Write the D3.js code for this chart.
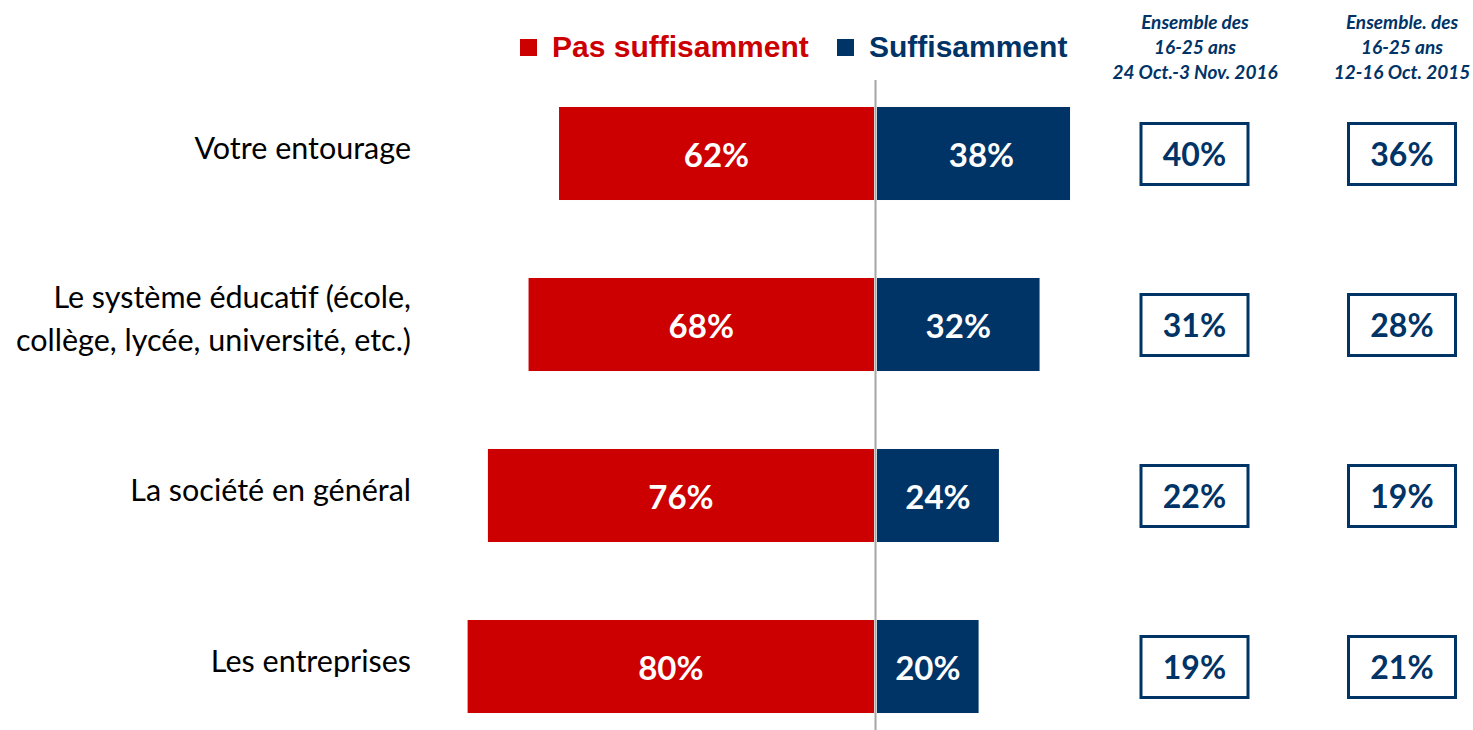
<!DOCTYPE html>
<html>
<head>
<meta charset="utf-8">
<script src="https://cdn.jsdelivr.net/npm/d3@7/dist/d3.min.js"></script>
<style>
  body { margin: 0; background: #fff; }
  svg { display: block; }
</style>
</head>
<body>
<div id="chart"></div>
<script>
var categories = [
  ["Votre entourage"],
  ["Le système éducatif (école,", "collège, lycée, université, etc.)"],
  ["La société en général"],
  ["Les entreprises"]
];
var pasSuffisamment = [62, 68, 76, 80];
var suffisamment = [38, 32, 24, 20];
var col2016 = [40, 31, 22, 19];
var col2015 = [36, 28, 19, 21];
var legendLabels = ["Pas suffisamment", "Suffisamment"];
var colHeaders = [
  ["Ensemble des", "16-25 ans", "24 Oct.-3 Nov. 2016"],
  ["Ensemble. des", "16-25 ans", "12-16 Oct. 2015"]
];

var width = 1473, height = 730;
var red = "#CC0000", navy = "#003366";
var center = 875.5;
var bodyFont = "Lato, 'Open Sans', sans-serif";

var rows = categories.map((c, i) => ({
  id: i, label: c,
  neg: pasSuffisamment[i], pos: suffisamment[i],
  a: col2016[i], b: col2015[i]
}));

var svg = d3.select("#chart").append("svg")
    .attr("width", width)
    .attr("height", height);

var x = d3.scaleLinear().domain([0, 100]).range([0, 508]);
var y = d3.scaleBand()
    .domain(rows.map(d => d.id))
    .range([68, 752])
    .paddingInner(0.456)
    .paddingOuter(0.228);

// legend
var legend = svg.append("g").attr("font-family", "'Liberation Sans', Arial, sans-serif")
    .attr("font-weight", "bold").attr("font-size", 30);
[[520, red], [837, navy]].forEach((p, i) => {
  legend.append("rect").attr("x", p[0]).attr("y", 39).attr("width", 17).attr("height", 17).attr("fill", p[1]);
  legend.append("text").attr("x", p[0] + 32).attr("y", 57).attr("fill", p[1]).text(legendLabels[i]);
});

// column headers
colHeaders.forEach((lines, j) => {
  var cx = j === 0 ? 1195 : 1402;
  var t = svg.append("text")
      .attr("text-anchor", "middle")
      .attr("font-family", bodyFont)
      .attr("font-weight", "bold")
      .attr("font-style", "italic")
      .attr("font-size", 19)
      .attr("fill", navy);
  lines.forEach((l, k) => {
    t.append("tspan").attr("x", cx).attr("y", 29 + k * 25).text(l);
  });
});

// red bars
svg.append("g").selectAll("rect")
  .data(rows)
  .join("rect")
  .attr("x", d => center - 1.5 - x(d.neg))
  .attr("y", d => y(d.id))
  .attr("width", d => x(d.neg))
  .attr("height", y.bandwidth())
  .attr("fill", red);

// blue bars
svg.append("g").selectAll("rect")
  .data(rows)
  .join("rect")
  .attr("x", center + 1.5)
  .attr("y", d => y(d.id))
  .attr("width", d => x(d.pos))
  .attr("height", y.bandwidth())
  .attr("fill", navy);

// center line
svg.append("line")
  .attr("x1", center).attr("x2", center)
  .attr("y1", 80).attr("y2", 730)
  .attr("stroke", "#A6A6A6").attr("stroke-width", 2);

// bar labels
var barLabels = svg.append("g")
    .attr("font-family", bodyFont)
    .attr("font-weight", "bold")
    .attr("font-size", 33)
    .attr("fill", "#fff")
    .attr("text-anchor", "middle")
    .attr("dominant-baseline", "central");

barLabels.selectAll(".neg")
  .data(rows)
  .join("text")
  .attr("x", d => center - 1.5 - x(d.neg) / 2)
  .attr("y", d => y(d.id) + y.bandwidth() / 2)
  .text(d => d.neg + "%");

barLabels.selectAll(".pos")
  .data(rows)
  .join("text")
  .attr("x", d => center + 1.5 + x(d.pos) / 2 + (d.pos > 35 ? 8 : 0))
  .attr("y", d => y(d.id) + y.bandwidth() / 2)
  .text(d => d.pos + "%");

// category labels
var catLabels = svg.append("g")
    .attr("font-family", bodyFont)
    .attr("font-size", 30.5)
    .attr("fill", "#000")
    .attr("text-anchor", "end");

rows.forEach(d => {
  var cy = y(d.id) + y.bandwidth() / 2;
  var n = d.label.length;
  d.label.forEach((l, k) => {
    catLabels.append("text")
      .attr("x", 411)
      .attr("y", cy - 7 + (k - (n - 1) / 2) * 43)
      .attr("dominant-baseline", "central")
      .text(l);
  });
});

// comparison boxes
[[1194.5, "a"], [1402, "b"]].forEach(c => {
  var g = svg.append("g");
  g.selectAll("rect")
    .data(rows)
    .join("rect")
    .attr("x", c[0] - 53.5)
    .attr("y", d => y(d.id) + y.bandwidth() / 2 - 30)
    .attr("width", 107)
    .attr("height", 61)
    .attr("fill", "#fff")
    .attr("stroke", navy)
    .attr("stroke-width", 3);
  g.selectAll("text")
    .data(rows)
    .join("text")
    .attr("x", c[0])
    .attr("y", d => y(d.id) + y.bandwidth() / 2)
    .attr("text-anchor", "middle")
    .attr("dominant-baseline", "central")
    .attr("font-family", bodyFont)
    .attr("font-weight", "bold")
    .attr("font-size", 32)
    .attr("fill", navy)
    .text(d => d[c[1]] + "%");
});
</script>
</body>
</html>
